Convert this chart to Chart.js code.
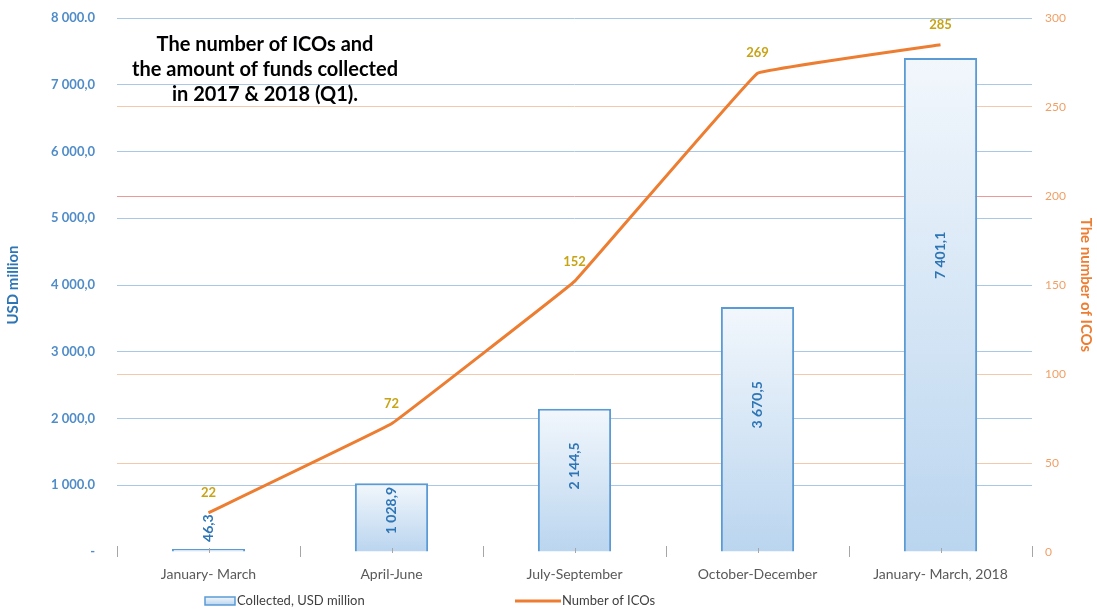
<!DOCTYPE html>
<html>
<head>
<meta charset="utf-8">
<script src="https://cdn.jsdelivr.net/npm/chart.js@4/dist/chart.umd.min.js"></script>
<style>
  html, body { margin: 0; padding: 0; background: #ffffff; }
  #wrap { width: 1097px; height: 615px; }
</style>
</head>
<body>
<div id="wrap"><canvas id="c" width="1097" height="615"></canvas></div>
<script>
// Quarterly ICO activity, 2017 and Q1 2018
const categories = ['January- March', 'April-June', 'July-September', 'October-December', 'January- March, 2018'];
const collectedUsd = [46.3, 1028.9, 2144.5, 3670.5, 7401.1];
const icoCount = [22, 72, 152, 269, 285];
const usdTickLabels = ['-', '1 000.0', '2 000,0', '3 000,0', '4 000,0', '5 000,0', '6 000,0', '7 000,0', '8 000.0'];
const titleLines = ['The number of ICOs and', 'the amount of funds collected', 'in 2017 & 2018 (Q1).'];
const barLabel = 'Collected, USD million';
const lineLabel = 'Number of ICOs';

const FONT = 'Lato, "Open Sans", "DejaVu Sans", sans-serif';
const BAR_BORDER = '#5b9bd5';
const LINE_COLOR = '#ed7d31';

// "7 401,1" style: space thousands separator, comma decimal
function formatUsd(v) {
  const parts = v.toFixed(1).split('.');
  const intPart = parts[0].replace(/\B(?=(\d{3})+(?!\d))/g, ' ');
  return intPart + ',' + parts[1];
}

function barGradient(ctx) {
  const chart = ctx.chart;
  const area = chart.chartArea;
  if (!area || ctx.type !== 'data') return '#dbe9f6';
  const yScale = chart.scales.y;
  const top = yScale.getPixelForValue(ctx.raw);
  const base = yScale.getPixelForValue(0);
  if (!isFinite(top) || Math.abs(base - top) < 1) return '#dbe9f6';
  const g = chart.ctx.createLinearGradient(0, top, 0, base);
  g.addColorStop(0, '#f2f7fc');
  g.addColorStop(1, '#bad5ef');
  return g;
}

const decorations = {
  id: 'decorations',
  afterDatasetsDraw(chart) {
    const c = chart.ctx;
    const area = chart.chartArea;
    const xScale = chart.scales.x;

    // category tick marks along the base
    c.save();
    c.strokeStyle = '#a6a6a6';
    c.lineWidth = 1;
    const n = categories.length;
    const step = (area.right - area.left) / n;
    for (let i = 0; i <= n; i++) {
      const x = Math.round(area.left + i * step) + 0.5;
      c.beginPath(); c.moveTo(x, area.bottom - 6); c.lineTo(x, area.bottom + 5); c.stroke();
    }
    for (let i = 0; i < n; i++) {
      const x = Math.round(xScale.getPixelForValue(i)) + 0.5;
      c.beginPath(); c.moveTo(x, area.bottom - 4); c.lineTo(x, area.bottom + 1); c.stroke();
    }
    c.restore();

    // rotated value labels on bars
    const barMeta = chart.getDatasetMeta(1);
    c.save();
    c.font = 'bold 14px ' + FONT;
    c.fillStyle = '#2e75b6';
    c.textAlign = 'center';
    c.textBaseline = 'middle';
    barMeta.data.forEach((bar, i) => {
      const text = formatUsd(collectedUsd[i]);
      const w = c.measureText(text).width;
      const h = bar.base - bar.y;
      let cy;
      if (h > w + 16) {
        cy = bar.base - h * 0.6;
      } else {
        cy = bar.y - 7 - w / 2;
      }
      c.save();
      c.translate(bar.x, cy);
      c.rotate(-Math.PI / 2);
      c.fillText(text, 0, 0);
      c.restore();
    });
    c.restore();

    // point labels on the line
    const lineMeta = chart.getDatasetMeta(0);
    c.save();
    c.font = 'bold 13px ' + FONT;
    c.fillStyle = '#c8a415';
    c.textAlign = 'center';
    c.textBaseline = 'middle';
    lineMeta.data.forEach((pt, i) => {
      c.fillText(String(icoCount[i]), pt.x, pt.y - 20);
    });
    c.restore();

    // chart title over the plot
    c.save();
    c.font = 'bold 20px ' + FONT;
    c.fillStyle = '#000000';
    c.textAlign = 'center';
    c.textBaseline = 'middle';
    titleLines.forEach((line, i) => {
      c.fillText(line, area.left + 148, area.top + 27 + i * 25);
    });
    c.restore();

    // legend
    c.save();
    const ly = area.bottom + 49;
    const bx = area.left + 88;
    const g = c.createLinearGradient(0, ly - 4, 0, ly + 4);
    g.addColorStop(0, '#f2f7fc');
    g.addColorStop(1, '#bad5ef');
    c.fillStyle = g;
    c.fillRect(bx, ly - 4, 30, 8);
    c.strokeStyle = BAR_BORDER;
    c.lineWidth = 1.5;
    c.strokeRect(bx, ly - 4, 30, 8);
    c.font = '13px ' + FONT;
    c.fillStyle = '#404040';
    c.textAlign = 'left';
    c.textBaseline = 'middle';
    c.fillText(barLabel, bx + 32, ly);
    const lx = area.left + 398;
    c.strokeStyle = LINE_COLOR;
    c.lineWidth = 3;
    c.beginPath(); c.moveTo(lx, ly); c.lineTo(lx + 46, ly); c.stroke();
    c.fillText(lineLabel, lx + 47, ly);
    c.restore();
  }
};

// keep the value axes from reserving extra room above the plot
function fitValueAxis(width) {
  return (s) => {
    s.width = width;
    s.paddingTop = 8;
    s.paddingBottom = 8;
  };
}

new Chart(document.getElementById('c'), {
  type: 'bar',
  data: {
    labels: categories,
    datasets: [
      {
        type: 'line',
        label: lineLabel,
        data: icoCount,
        yAxisID: 'y1',
        borderColor: LINE_COLOR,
        backgroundColor: LINE_COLOR,
        borderWidth: 3,
        pointRadius: 0,
        tension: 0.04,
        order: 0
      },
      {
        type: 'bar',
        label: barLabel,
        data: collectedUsd,
        yAxisID: 'y',
        backgroundColor: barGradient,
        borderColor: BAR_BORDER,
        borderWidth: { top: 2, left: 2, right: 2, bottom: 0 },
        categoryPercentage: 1.0,
        barPercentage: 0.4,
        order: 1
      }
    ]
  },
  options: {
    responsive: false,
    devicePixelRatio: 1,
    animation: false,
    layout: { padding: { left: 0, right: 0, top: 18, bottom: 0 } },
    plugins: {
      legend: { display: false },
      tooltip: { enabled: false },
      title: { display: false }
    },
    scales: {
      x: {
        grid: { display: false, drawTicks: false },
        border: { display: false },
        ticks: {
          color: '#595959',
          font: { family: FONT, size: 14 },
          padding: 14,
          maxRotation: 0,
          autoSkip: false
        },
        afterFit(s) { s.height = 63; }
      },
      y: {
        position: 'left',
        min: 0,
        max: 8000,
        grid: {
          drawTicks: false,
          color: (ctx) => (ctx.tick && ctx.tick.value === 0) ? 'rgba(0,0,0,0)' : '#a9c8e6',
          lineWidth: 1
        },
        border: { display: false },
        ticks: {
          stepSize: 1000,
          padding: 22,
          color: '#4f8cc8',
          font: { family: FONT, size: 13, weight: 'bold' },
          callback: (v) => usdTickLabels[Math.round(v / 1000)]
        },
        title: {
          display: true,
          text: 'USD million',
          color: '#2e75b6',
          font: { family: FONT, size: 15, weight: 'bold' },
          padding: { top: 4, bottom: 0 }
        },
        afterFit: fitValueAxis(117)
      },
      y1: {
        position: 'right',
        min: 0,
        max: 300,
        grid: {
          drawTicks: false,
          drawOnChartArea: true,
          color: (ctx) => {
            const v = ctx.tick ? ctx.tick.value : 0;
            if (v === 0 || v === 150 || v === 300) return 'rgba(0,0,0,0)';
            if (v === 200) return '#eb9a9a';
            return '#f3c9ab';
          },
          lineWidth: 1
        },
        border: { display: false },
        ticks: {
          stepSize: 50,
          padding: 13,
          color: '#f0a067',
          font: { family: FONT, size: 12 }
        },
        title: {
          display: true,
          text: 'The number of ICOs',
          color: '#ed7d31',
          font: { family: FONT, size: 15, weight: 'bold' },
          padding: { top: 2, bottom: 0 }
        },
        afterFit: fitValueAxis(65)
      }
    }
  },
  plugins: [decorations]
});
</script>
</body>
</html>
